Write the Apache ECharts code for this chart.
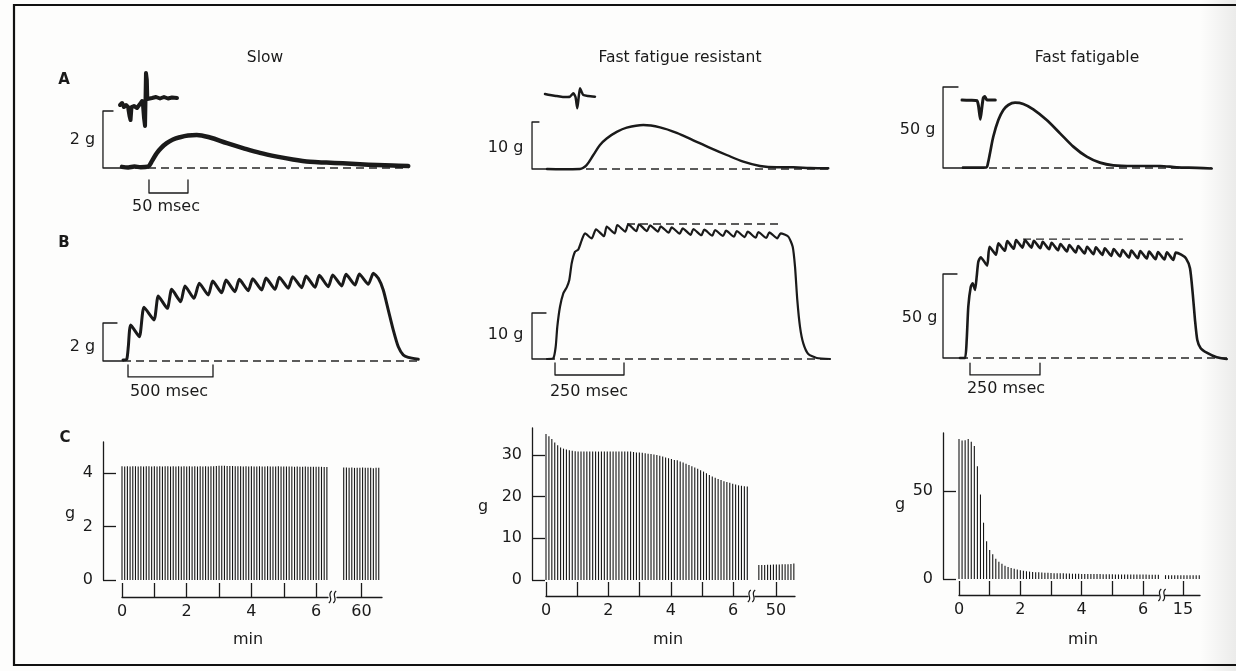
<!DOCTYPE html>
<html><head><meta charset="utf-8">
<script src="https://cdn.jsdelivr.net/npm/echarts@6/dist/echarts.min.js"></script>
<style>html,body{margin:0;padding:0;background:#fff}#c{width:1236px;height:671px}</style>
</head><body><div id="c"></div>
<script>
// ================= DATA =================
const titles = ['Slow', 'Fast fatigue resistant', 'Fast fatigable'];
const rowLetters = ['A', 'B', 'C'];

// Row A insets: action potentials (x: ms, y: arbitrary units)
const slowAP = [[0,1],[2.6,3],[5.1,-1],[7.7,1],[10.3,-1],[12.2,-10],[13.5,-14],[14.7,-1],[17.9,0],[21.8,-2],[25.6,2],[28.2,5],[29.5,1],[30.8,-12],[32.1,-20],[32.7,6],[33.3,33],[34.4,26],[35,7],[37.2,9],[41,8],[46.2,9],[51.3,7.5],[56.4,9],[61.5,7.5],[66.7,8.5],[73.1,8]];
const frAP = [[0,2],[6.4,1],[15,0],[23,-1],[32,-0.7],[36.3,2.7],[39.1,-1],[41.4,-12.3],[43.2,-1],[44.9,7.7],[47,4],[49.1,1],[55.1,0],[64.1,-0.7]];
const ffAP = [[0,0],[10.6,-0.3],[19.2,-0.7],[21.3,-6.7],[23.5,-19.3],[25.6,-6.7],[27.3,2],[29.2,3.5],[32.1,0],[42.7,0]];

// Row A: single twitches (x: ms, y: g)
const slowTwitch = [[0,0.04],[8,0.02],[16,0.05],[24,0.03],[33.3,0.05],[38.5,0.25],[44.5,0.52],[50,0.70],[57.3,0.87],[65.4,1.0],[74.4,1.08],[84.6,1.14],[95.8,1.16],[112.8,1.07],[134.6,0.87],[155,0.70],[176.9,0.53],[198.7,0.40],[219,0.30],[241,0.22],[262,0.19],[283,0.165],[305,0.13],[327,0.105],[347,0.09],[367,0.07]];
const frTwitch = [[0,0],[20,-0.05],[42.3,0],[46,0.2],[50.9,0.85],[59.4,2.98],[67.9,5.1],[76.5,6.5],[89.4,7.9],[102.2,8.8],[123.5,9.36],[144.9,8.87],[166.3,7.7],[187.6,6.1],[209,4.5],[230.4,2.98],[251.7,1.55],[273,0.64],[294.5,0.36],[315.8,0.36],[337.2,0.2],[360.6,0.15]];
const ffTwitch = [[0,0.2],[15,0.25],[30,0.4],[32,3],[34.6,9.1],[38.8,19.3],[45.3,29.6],[51.7,35.8],[58.1,38.9],[66.7,40.3],[77.3,39.5],[90.1,36.2],[107.3,29.6],[124.4,21.4],[141.4,13.2],[158.6,7.0],[175.6,3.3],[192.7,1.66],[218.3,1.23],[252.6,1.23],[274,0.43],[300,0.1],[318.8,-0.3]];

// Row B: unfused tetani (x: ms, y: g)
const slowTetanus = [[0,0.05],[21.8,0.09],[31.2,0.75],[45.3,1.89],[95.9,1.28],[123.5,2.83],[182.4,2.16],[207.6,3.42],[260.6,2.77],[286.5,3.77],[339.4,3.12],[364.7,3.95],[417.6,3.30],[448.8,4.09],[501.8,3.47],[527.6,4.21],[580.6,3.59],[605.9,4.26],[658.8,3.65],[684.1,4.30],[737.1,3.70],[762.9,4.33],[815.9,3.74],[841.2,4.37],[894.1,3.77],[919.4,4.41],[972.4,3.83],[998.2,4.44],[1051.2,3.86],[1076.5,4.47],[1129.4,3.88],[1154.7,4.51],[1207.6,3.91],[1233.5,4.53],[1286.5,3.95],[1311.8,4.56],[1364.7,4.0],[1390,4.58],[1443,4.04],[1472.4,4.62],[1501.8,4.35],[1531,3.74],[1560.6,2.68],[1590,1.63],[1619.4,0.75],[1648.8,0.32],[1678,0.19],[1737,0.09]];
const frTetanus = [[0,0],[22.8,0.15],[31.5,2.67],[37.3,7.0],[47.1,11.37],[59.1,14.28],[71.4,15.58],[80.8,17.17],[89.5,20.8],[101.4,23.3],[113.4,23.8],[125.7,25.8],[137.7,27.3],[161.8,26.2],[177.5,28.2],[206.5,26.7],[216.3,28.76],[245.3,27.3],[254.7,29.13],[283.7,27.7],[294.6,29.28],[323.6,27.8],[333.3,29.28],[362.3,27.8],[373.2,29.07],[402.2,27.7],[412,28.85],[441,27.45],[451.8,28.63],[480.8,27.24],[491.7,28.41],[520.7,27.0],[530.1,28.26],[559.1,26.9],[569.9,28.11],[598.9,26.8],[608.7,28.04],[637.7,26.74],[648.6,27.89],[677.5,26.6],[687.3,27.83],[716.3,26.5],[727.2,27.67],[756.2,26.37],[765.6,27.61],[794.6,26.3],[805.4,27.54],[834.4,26.24],[846.7,27.33],[874.3,26.6],[890.2,24.4],[898.6,20.07],[906.9,12.8],[916.7,7.0],[928.6,3.4],[946.7,1.09],[977.2,0.22],[1025.4,0]];
const ffTetanus = [[0,0],[17.9,0],[23.9,10.7],[29.6,30.5],[38.2,42.1],[45.4,44.5],[53.6,40.5],[59.6,48.4],[65.4,57.3],[73.9,60],[96.9,55],[105.4,66.25],[128.4,61.5],[137.1,68.3],[160.1,63.8],[168.9,69.6],[191.9,65.0],[200.4,70.2],[223.4,65.7],[232.1,70.2],[255.1,65.7],[263.9,69.8],[286.9,65.3],[295.4,69.2],[318.4,64.7],[327.1,68.6],[350.1,64.1],[358.9,67.9],[381.9,63.4],[390.4,67.3],[413.4,62.8],[422.1,66.7],[445.1,62.2],[453.9,66.25],[476.9,61.75],[485.4,65.9],[508.4,61.4],[517.1,65.3],[540.1,60.8],[548.9,64.9],[571.9,60.4],[580.4,64.3],[603.4,59.8],[612.1,63.9],[635.1,59.4],[643.9,63.7],[666.9,59.2],[675.4,63.3],[698.4,58.8],[707.1,63.1],[730.1,58.6],[738.9,62.9],[761.9,58.4],[770.4,62.7],[790,61.5],[807.1,59.3],[821.4,53.4],[831.1,38.5],[839.3,22.6],[847.5,10.7],[859.6,5.8],[881.1,3.15],[916.8,0.4],[952.5,-0.6]];
const frTetanusMax = 29.35;   // g, upper dashed reference
const ffTetanusMax = 70.8;    // g

// Scale bars (data units of each panel)
const slowTwitchScale = [[-11.5,2],[-24.4,2],[-24.4,0],[0,0]];
const slowTwitchTime  = [[34.6,-0.42],[34.6,-0.877],[84.6,-0.877],[84.6,-0.42]];
const frTwitchScale   = [[-10.3,10],[-19.2,10],[-19.2,0],[0,0]];
const ffTwitchScale   = [[-6.4,50],[-25.6,50],[-25.6,0],[0,0]];
const slowTetScale    = [[-35.3,2],[-117.6,2],[-117.6,0],[0,0]];
const slowTetTime     = [[29.4,-0.21],[29.4,-0.84],[529.4,-0.84],[529.4,-0.21]];
const frTetScale      = [[-3.6,10],[-54.3,10],[-54.3,0],[0,0]];
const frTetTime       = [[29,-0.87],[29,-3.48],[279,-3.48],[279,-0.87]];
const ffTetScale      = [[-10.7,50],[-60.7,50],[-60.7,0],[0,0]];
const ffTetTime       = [[35.7,-3.0],[35.7,-10.1],[285.7,-10.1],[285.7,-3.0]];
const baselineEnds = {aSlow:[0,367], aFr:[0,360.6], aFf:[0,318.8], bSlow:[0,1735], bFr:[0,1025], bFf:[0,953.6]};
const upperDashFr = [289.9, 851.4];
const upperDashFf = [225, 796];

// Row C: fatigue tests (x: min, y: g); tetani at regular intervals
const slowFatigueStart = 0, slowFatigueStep = 1/12;
const slowFatigue = [4.26,4.25,4.26,4.25,4.26,4.26,4.25,4.26,4.25,4.26, 4.26,4.25,4.26,4.25,4.26,4.25,4.26,4.26,4.25,4.26, 4.25,4.26,4.25,4.26,4.25,4.26,4.25,4.26,4.25,4.26, 4.25,4.26,4.25,4.26,4.26,4.27,4.28,4.28,4.28,4.27, 4.27,4.27,4.26,4.26,4.26,4.25,4.26,4.25,4.26,4.25, 4.25,4.26,4.25,4.25,4.26,4.25,4.25,4.25,4.26,4.25, 4.25,4.25,4.25,4.25,4.24,4.25,4.24,4.24,4.25,4.24, 4.24,4.24,4.24,4.24,4.24,4.23,4.23];
const slowLateStart = 59.45;
const slowLate = [4.21,4.21,4.2,4.21,4.2,4.2,4.2,4.21,4.2,4.2,4.2,4.19,4.2,4.2];
const frFatigueStart = 0, frFatigueStep = 0.0935;
const frFatigue = [35.0,34.5,33.8,33.0,32.3,31.8,31.5,31.3,31.1,31.0, 30.9,30.8,30.8,30.8,30.8,30.8,30.8,30.8,30.8,30.8, 30.8,30.8,30.8,30.8,30.8,30.8,30.8,30.8,30.8,30.8, 30.7,30.6,30.6,30.5,30.4,30.3,30.2,30.1,30.0,29.8, 29.6,29.4,29.2,29.0,28.8,28.7,28.4,28.2,27.9,27.6, 27.3,27.0,26.7,26.3,26.0,25.6,25.2,24.8,24.5,24.2, 24.0,23.7,23.5,23.3,23.1,22.9,22.7,22.6,22.5,22.4];
const frLateStart = 49.45;
const frLate = [3.6,3.6,3.6,3.65,3.65,3.7,3.7,3.7,3.75,3.75,3.8,3.85,3.95];
const ffFatigueStart = 0, ffFatigueStep = 0.1;
const ffFatigue = [79.6,78.7,78.8,79.6,78,75.5, 64,48,32,21.5,16.5, 14,11.5,9.8,8.6,7.5, 6.8,6.2,5.8,5.4,5.0, 4.7,4.4,4.2,4.0,3.9, 3.8,3.7,3.6,3.5,3.4, 3.3,3.3,3.2,3.2,3.1, 3.1,3.0,3.0,3.0,2.9, 2.9,2.9,2.8,2.8,2.8, 2.8,2.7,2.7,2.7,2.7, 2.6,2.6,2.6,2.6,2.6, 2.5,2.5,2.5,2.5,2.5, 2.5,2.4,2.4,2.4,2.4];
const ffLateStart = 14.43;
const ffLate = [2.2,2.2,2.2,2.2,2.2,2.2,2.2,2.2,2.2,2.2,2.2,2.2];

// Axis ticks for row C
const cMinTicks = [0,1,2,3,4,5,6];
const cMinLabels = [0,2,4,6];
const slowLateTick = [60], frLateTick = [50], ffLateTick = [15];
const slowGTicks = [0,2,4], frGTicks = [0,10,20,30], ffGTicks = [0,50];

// ================= LAYOUT =================
const INK = '#1a1a1a';
const FONT = 'DejaVu Sans';
const L = {
  aSlow:  {rect:[100,95,315,110], xRef:0, xPx:122, sx:0.78, yPx:168, sy:28.5},
  aSlowIn:{rect:[115,65,70,70],   xRef:0, xPx:120, sx:0.78, yPx:106, sy:1},
  aFr:    {rect:[525,105,310,80], xRef:0, xPx:547, sx:0.78, yPx:169, sy:4.7},
  aFrIn:  {rect:[540,80,60,35],   xRef:0, xPx:545, sx:0.78, yPx:96,  sy:1},
  aFf:    {rect:[935,80,290,105], xRef:0, xPx:963, sx:0.78, yPx:168, sy:1.62},
  aFfIn:  {rect:[955,85,45,40],   xRef:0, xPx:962, sx:0.78, yPx:100, sy:1},
  bSlow:  {rect:[98,260,325,130], xRef:0, xPx:123, sx:0.17, yPx:361, sy:19},
  bFr:    {rect:[525,210,310,175],xRef:0, xPx:547, sx:0.276,yPx:359, sy:4.6},
  bFf:    {rect:[935,225,300,160],xRef:0, xPx:960, sx:0.28, yPx:358, sy:1.68},
  cSlow:  {rect:[122,442,206,138],xRef:0, xPx:122, sx:32.35,yPx:580, sy:26.7},
  cSlow2: {rect:[337,442,45,138], xRef:60,xPx:361.5,sx:32.35,yPx:580, sy:26.7},
  cFr:    {rect:[546,428,202,152],xRef:0, xPx:546, sx:31.2, yPx:580, sy:4.17},
  cFr2:   {rect:[755,428,40,152], xRef:50,xPx:776, sx:31.2, yPx:580, sy:4.17},
  cFf:    {rect:[959,433,200,146],xRef:0, xPx:959, sx:30.67,yPx:579, sy:1.76},
  cFf2:   {rect:[1165,433,35,146],xRef:15,xPx:1183,sx:30.67,yPx:579, sy:1.76}
};
const idx = {};
const grids = [], xAxes = [], yAxes = [];
Object.keys(L).forEach((k, i) => {
  const s = L[k]; const [l, t, w, h] = s.rect;
  idx[k] = i;
  grids.push({left:l, top:t, width:w, height:h, containLabel:false, outerBoundsMode:'none'});
  xAxes.push({gridIndex:i, type:'value', min:s.xRef + (l - s.xPx)/s.sx, max:s.xRef + (l + w - s.xPx)/s.sx, show:false, splitLine:{show:false}});
  yAxes.push({gridIndex:i, type:'value', min:(s.yPx - (t + h))/s.sy, max:(s.yPx - t)/s.sy, show:false, splitLine:{show:false}});
});
function showX(i, ticks, labels, off) {
  Object.assign(xAxes[i], {show:true, offset:off,
    axisLine:{show:true, onZero:false, lineStyle:{color:INK, width:1.3}},
    axisTick:{show:true, inside:true, length:14, customValues:ticks, lineStyle:{color:INK, width:1.3}},
    axisLabel:{show:true, customValues:labels, margin:7, color:INK, fontFamily:FONT, fontSize:16},
    splitLine:{show:false}});
}
function showY(i, ticks, off) {
  Object.assign(yAxes[i], {show:true, offset:off,
    axisLine:{show:true, onZero:false, lineStyle:{color:INK, width:1.3}},
    axisTick:{show:true, inside:true, length:13, customValues:ticks, lineStyle:{color:INK, width:1.3}},
    axisLabel:{show:true, customValues:ticks, margin:10, color:INK, fontFamily:FONT, fontSize:16},
    splitLine:{show:false}});
}
showX(idx.cSlow, cMinTicks, cMinLabels, 17); showX(idx.cSlow2, slowLateTick, slowLateTick, 17);
showX(idx.cFr, cMinTicks, cMinLabels, 16);   showX(idx.cFr2, frLateTick, frLateTick, 16);
showX(idx.cFf, cMinTicks, cMinLabels, 16);   showX(idx.cFf2, ffLateTick, ffLateTick, 16);
showY(idx.cSlow, slowGTicks, 19); showY(idx.cFr, frGTicks, 14); showY(idx.cFf, ffGTicks, 16);

// ================= SERIES =================
const series = [];
function line(k, data, width, smooth) {
  series.push({type:'line', xAxisIndex:idx[k], yAxisIndex:idx[k], data:data, symbol:'none', silent:true,
    smooth:smooth || 0, lineStyle:{color:INK, width:width, cap:'round', join:'round'}, z:3});
}
function dash(k, ends, y) {
  series.push({type:'line', xAxisIndex:idx[k], yAxisIndex:idx[k], data:[[ends[0], y],[ends[1], y]], symbol:'none', silent:true,
    lineStyle:{color:'#262626', width:1.3, type:[8,5]}, z:2});
}
function bars(k, start, step, heights) {
  series.push({type:'bar', xAxisIndex:idx[k], yAxisIndex:idx[k], data:heights.map((h, i) => [start + i*step, h]),
    barWidth:1.1, clip:false, silent:true, itemStyle:{color:'#161616'}, z:2});
}
// Row A
line('aSlowIn', slowAP, 4); line('aFrIn', frAP, 2.5, 0.2); line('aFfIn', ffAP, 3, 0.2);
line('aSlow', slowTwitch, 4.5, 0.35); line('aFr', frTwitch, 2.4, 0.35); line('aFf', ffTwitch, 2.7, 0.3);
dash('aSlow', baselineEnds.aSlow, 0); dash('aFr', baselineEnds.aFr, 0); dash('aFf', baselineEnds.aFf, 0);
line('aSlow', slowTwitchScale, 1.3); line('aSlow', slowTwitchTime, 1.3);
line('aFr', frTwitchScale, 1.3); line('aFf', ffTwitchScale, 1.3);
// Row B
line('bSlow', slowTetanus, 3, 0.2); line('bFr', frTetanus, 2.2, 0.2); line('bFf', ffTetanus, 2.6, 0.2);
dash('bSlow', baselineEnds.bSlow, 0); dash('bFr', baselineEnds.bFr, 0); dash('bFf', baselineEnds.bFf, 0);
dash('bFr', upperDashFr, frTetanusMax); dash('bFf', upperDashFf, ffTetanusMax);
line('bSlow', slowTetScale, 1.3); line('bSlow', slowTetTime, 1.3);
line('bFr', frTetScale, 1.3); line('bFr', frTetTime, 1.3);
line('bFf', ffTetScale, 1.3); line('bFf', ffTetTime, 1.3);
// Row C
bars('cSlow', slowFatigueStart, slowFatigueStep, slowFatigue); bars('cSlow2', slowLateStart, slowFatigueStep, slowLate);
bars('cFr', frFatigueStart, frFatigueStep, frFatigue); bars('cFr2', frLateStart, frFatigueStep, frLate);
bars('cFf', ffFatigueStart, ffFatigueStep, ffFatigue); bars('cFf2', ffLateStart, ffFatigueStep, ffLate);

// ================= TEXT & DECORATION =================
const graphic = [];
function text(x, y, s, size, bold, align) {
  graphic.push({type:'text', x:x, y:y, silent:true, style:{text:s, fill:INK, font:(bold ? 'bold ' : '') + size + 'px "' + FONT + '"', textAlign:align || 'center', textVerticalAlign:'middle'}});
}
text(265, 58, titles[0], 15.5); text(680, 58, titles[1], 15.5); text(1087, 58, titles[2], 15.5);
text(64, 80, rowLetters[0], 15, true); text(64, 243, rowLetters[1], 15, true); text(65, 438, rowLetters[2], 15, true);
text(82.5, 140, '2 g', 16); text(505.5, 148, '10 g', 16); text(917.5, 130, '50 g', 16);
text(166, 207, '50 msec', 16);
text(82.5, 347, '2 g', 16); text(505.5, 335, '10 g', 16); text(919.5, 318, '50 g', 16);
text(169, 392, '500 msec', 16); text(589, 392, '250 msec', 16); text(1006, 389, '250 msec', 16);
text(70, 514, 'g', 16); text(483, 507, 'g', 16); text(900, 505, 'g', 16);
text(248, 640, 'min', 16); text(668, 640, 'min', 16); text(1083, 640, 'min', 16);
// axis break marks
function brk(cx, cy) {
  [-2.2, 2.2].forEach(d => graphic.push({type:'bezierCurve', silent:true,
    shape:{x1:cx+d-1.5, y1:cy+6, x2:cx+d+1.5, y2:cy-6, cpx1:cx+d+4, cpy1:cy+2, cpx2:cx+d-4, cpy2:cy-2},
    style:{stroke:INK, lineWidth:1.2, fill:null}}));
}
brk(332.5, 597); brk(751.5, 596); brk(1162, 595);
// page frame and scan edge
graphic.push({type:'rect', silent:true, shape:{x:1200, y:0, width:36, height:671},
  style:{fill:{type:'linear', x:0, y:0, x2:1, y2:0, colorStops:[{offset:0, color:'rgba(0,0,0,0)'},{offset:1, color:'rgba(0,0,0,0.07)'}]}}, z:-1});
graphic.push({type:'rect', silent:true, shape:{x:14, y:5, width:1240, height:660}, style:{fill:null, stroke:'#111', lineWidth:2.2}});

const chart = echarts.init(document.getElementById('c'), null, {renderer:'canvas'});
chart.setOption({animation:false, backgroundColor:'#fdfdfc', grid:grids, xAxis:xAxes, yAxis:yAxes, series:series, graphic:graphic});
</script></body></html>
